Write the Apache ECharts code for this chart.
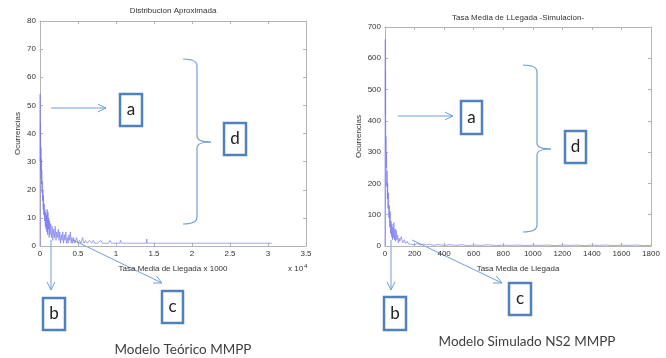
<!DOCTYPE html>
<html><head><meta charset="utf-8">
<script src="https://cdn.jsdelivr.net/npm/echarts/dist/echarts.min.js"></script>
<style>html,body{margin:0;padding:0;background:#fff}#c{width:666px;height:358px}</style>
</head><body><div id="c"></div><script>
// Left plot: Distribucion Aproximada (x in units of 10^4)
const leftRate = [0,0.002,0.004,0.006,0.008,0.010,0.012,0.015,0.018,0.021,0.024,0.027,0.030,0.034,0.038,0.042,0.046,0.050,0.055,0.060,0.065,0.070,0.075,0.080,0.085,0.090,0.095,0.100,0.105,0.110,0.115,0.120,0.125,0.130,0.140,0.150,0.160,0.170,0.180,0.190,0.200,0.210,0.220,0.230,0.240,0.250,0.260,0.270,0.280,0.290,0.300,0.310,0.320,0.330,0.340,0.350,0.360,0.370,0.380,0.390,0.400,0.410,0.420,0.430,0.440,0.460,0.480,0.500,0.520,0.540,0.560,0.580,0.600,0.620,0.650,0.680,0.700,0.720,0.760,0.800,0.820,0.900,0.920,0.940,1.050,1.060,1.070,1.400,1.405,1.410,3.050];
const leftCount = [0,54,30,44,38,27,35,24,31,22,27,19,23,16,20,13,18,11,15,9,13,7,12,6,11,5,13,4,12,6,10,3,9,4,8,3,7,2,6,3,7,2,5,3,6,2,5,1,4,2,5,1,4,2,5,1,3,1,4,2,5,1,3,1,3,1,3,1,2,1,3,1,2,1,2,1,2,1,1,2,1,1,2,1,1,2,1,1,2.5,1,1];
// Right plot: Tasa Media de LLegada -Simulacion-
const rightRate = [0,1,2,3,4,5,6,8,10,12,14,16,18,20,23,26,29,32,35,38,41,44,47,50,53,56,60,64,68,72,76,80,85,90,95,100,110,120,130,140,150,160,170,180,190,200,220,240,260,280,300,330,360,400,440,480,520,560,600,650,700,750,800,850,900,950,1000,1050,1100,1150,1200,1250,1300,1350,1400,1450,1500,1550,1600,1650,1700,1750,1800];
const rightCount = [0,560,660,420,560,300,350,250,300,190,240,150,200,120,170,90,130,60,110,40,80,30,70,20,60,25,75,20,55,15,50,20,35,10,25,15,30,10,20,8,15,6,12,5,10,4,8,3,7,3,6,2,5,2,4,2,4,1,3,2,4,1,3,2,3,1,3,2,3,1,3,2,3,1,3,2,3,1,3,2,3,1,2];

const titles = ['Distribucion Aproximada','Tasa Media de LLegada -Simulacion-'];
const xNames = ['Tasa Media de Llegada x 1000','Tasa Media de Llegada'];
const yName = 'Ocurrencias';
const captions = ['Modelo Teórico MMPP','Modelo Simulado NS2 MMPP'];

const chart = echarts.init(document.getElementById('c'));
const axisCol = '#b4b4b4', labCol = '#333';
const FF = '"Liberation Sans", Arial, sans-serif';
const CF = 'Lato, "Open Sans", sans-serif';
const boxCol = '#4f81bd', arrCol = '#6f9fd8';

function valAxis(grid, pos, min, max, interval, labels, extra) {
  return Object.assign({
    type:'value', gridIndex:grid, position:pos, min:min, max:max, interval:interval,
    axisLine:{show:true, onZero:false, lineStyle:{color:axisCol, width:1}},
    axisTick:{show:true, inside:true, length:3, lineStyle:{color:axisCol}},
    axisLabel:{show:labels, color:labCol, fontSize:8, fontFamily:FF, margin:4, formatter:(v)=>String(v)},
    splitLine:{show:false}
  }, extra||{});
}

const grids = [
  {left:40, top:21, width:266, height:225},
  {left:385, top:27, width:266, height:219}
];

const xAxes = [
  valAxis(0,'bottom',0,3.5,0.5,true,{name:xNames[0], nameLocation:'middle', nameGap:19, nameTextStyle:{color:labCol,fontSize:8,fontFamily:FF}}),
  valAxis(0,'top',0,3.5,0.5,false),
  valAxis(1,'bottom',0,1800,200,true,{name:xNames[1], nameLocation:'middle', nameGap:19, nameTextStyle:{color:labCol,fontSize:8,fontFamily:FF}}),
  valAxis(1,'top',0,1800,200,false)
];
const yAxes = [
  valAxis(0,'left',0,80,10,true,{name:yName, nameLocation:'middle', nameRotate:90, nameGap:18, nameTextStyle:{color:labCol,fontSize:8,fontFamily:FF}}),
  valAxis(0,'right',0,80,10,false),
  valAxis(1,'left',0,700,100,true,{name:yName, nameLocation:'middle', nameRotate:90, nameGap:22, nameTextStyle:{color:labCol,fontSize:8,fontFamily:FF}}),
  valAxis(1,'right',0,700,100,false)
];

function pairs(xs, ys){ return xs.map((x,i)=>[x, ys[i]]); }
const lineStyle = {color:'#7878f2', width:0.8, opacity:0.85};

// annotation helpers
function arrow(x1,y1,x2,y2){
  const a = Math.atan2(y2-y1, x2-x1), L = 9, s = 0.45;
  return [
    {type:'line', shape:{x1:x1,y1:y1,x2:x2,y2:y2}, style:{stroke:arrCol, lineWidth:1}},
    {type:'polyline', shape:{points:[[x2-L*Math.cos(a-s), y2-L*Math.sin(a-s)],[x2,y2],[x2-L*Math.cos(a+s), y2-L*Math.sin(a+s)]]}, style:{stroke:arrCol, lineWidth:1, fill:null}}
  ];
}
function box(x,y,w,h,t){
  return [
    {type:'rect', shape:{x:x,y:y,width:w,height:h}, style:{fill:'#fff', stroke:boxCol, lineWidth:2.5}},
    {type:'text', x:x+w/2, y:y+h/2, style:{text:t, font:'17px '+CF, fill:'#222', align:'center', verticalAlign:'middle'}}
  ];
}
function brace(xe, yt, xv, xt, ym, yb){
  const st = {stroke:arrCol, lineWidth:1.2, fill:null};
  return [
    {type:'bezierCurve', shape:{x1:xe,y1:yt,x2:xv,y2:yt+7,cpx1:xv,cpy1:yt}, style:st},
    {type:'line', shape:{x1:xv,y1:yt+7,x2:xv,y2:ym-6}, style:st},
    {type:'bezierCurve', shape:{x1:xv,y1:ym-6,x2:xt,y2:ym,cpx1:xv,cpy1:ym}, style:st},
    {type:'bezierCurve', shape:{x1:xt,y1:ym,x2:xv,y2:ym+6,cpx1:xv,cpy1:ym}, style:st},
    {type:'line', shape:{x1:xv,y1:ym+6,x2:xv,y2:yb-7}, style:st},
    {type:'bezierCurve', shape:{x1:xv,y1:yb-7,x2:xe,y2:yb,cpx1:xv,cpy1:yb}, style:st}
  ];
}

const g = [];
// titles
g.push({type:'text', x:173, y:11, style:{text:titles[0], font:'8px '+FF, fill:labCol, align:'center', verticalAlign:'middle'}});
g.push({type:'text', x:518, y:18, style:{text:titles[1], font:'8px '+FF, fill:labCol, align:'center', verticalAlign:'middle'}});
// x 10^4
g.push({type:'text', x:288, y:269, style:{text:'{a|x 10}{b|4}', rich:{a:{fontSize:8,fontFamily:FF,fill:labCol}, b:{fontSize:6,fontFamily:FF,fill:labCol,verticalAlign:'top',padding:[0,0,6,1]}}, verticalAlign:'middle'}});
// left annotations
g.push(...arrow(51,108,106,108));
g.push(...box(120,94,22,32,'a'));
g.push(...brace(183,59,197,211,142,224));
g.push(...box(224,123,22,32,'d'));
g.push(...arrow(51,240,51,290));
g.push(...box(43,298,22,32,'b'));
g.push(...arrow(73,240,162,283));
g.push(...box(162,291,21,32,'c'));
g.push({type:'text', x:183, y:350, style:{text:captions[0], font:'13.5px '+CF, fill:'#404040', align:'center', verticalAlign:'middle'}});
// right annotations
g.push(...arrow(398,116,453,116));
g.push(...box(461,101,21,33,'a'));
g.push(...brace(523,65,537,551,149,232));
g.push(...box(565,131,21,32,'d'));
g.push(...arrow(391,240,391,290));
g.push(...box(384,297,22,33,'b'));
g.push(...arrow(412,240,502,283));
g.push(...box(509,283,22,32,'c'));
g.push({type:'text', x:527, y:342, style:{text:captions[1], font:'13.5px '+CF, fill:'#404040', align:'center', verticalAlign:'middle'}});

chart.setOption({
  animation:false,
  backgroundColor:'#fff',
  grid:grids,
  xAxis:xAxes,
  yAxis:yAxes,
  series:[
    {type:'line', xAxisIndex:0, yAxisIndex:0, data:pairs(leftRate,leftCount), showSymbol:false, lineStyle:lineStyle, silent:true},
    {type:'line', xAxisIndex:2, yAxisIndex:2, data:pairs(rightRate,rightCount), showSymbol:false, lineStyle:lineStyle, silent:true}
  ],
  graphic:g
});
</script></body></html>
